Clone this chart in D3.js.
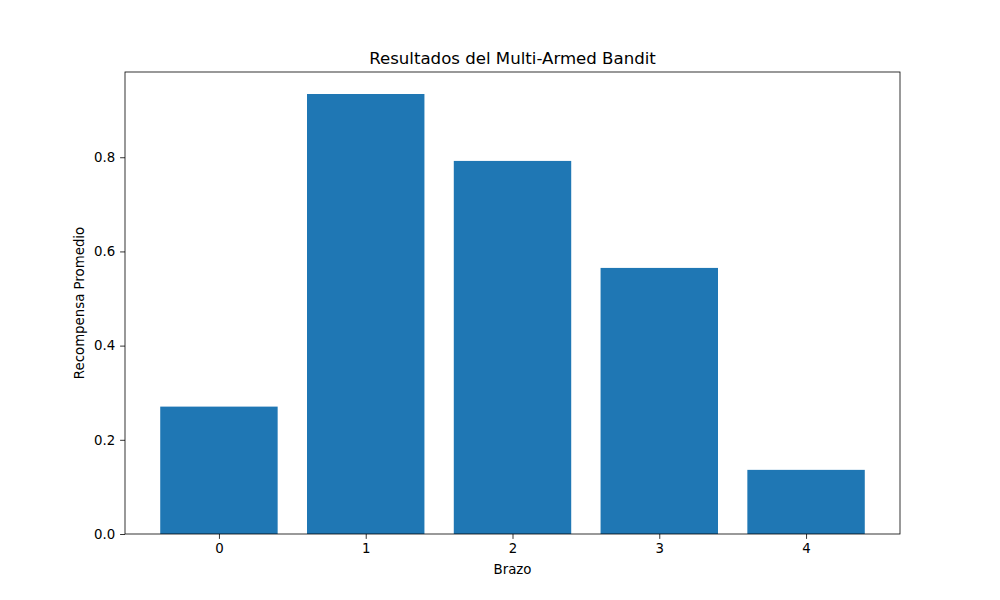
<!DOCTYPE html>
<html><head><meta charset="utf-8">
<script src="https://cdn.jsdelivr.net/npm/d3@7"></script>
<style>body{margin:0;background:#fff}svg{display:block;font-family:"DejaVu Sans",sans-serif}</style>
</head><body><svg id="c" width="1000" height="600"></svg>
<script>
const categories = ["0","1","2","3","4"];
const values = [0.2705, 0.9343, 0.7922, 0.5650, 0.1362];
const yTicks = [0.0, 0.2, 0.4, 0.6, 0.8];
const title = "Resultados del Multi-Armed Bandit";
const xLabel = "Brazo";
const yLabel = "Recompensa Promedio";

const svg = d3.select("#c");
const L = 125, R = 900, T = 72, B = 534;
const idx = categories.map((d,i)=>i);
const x = d3.scaleLinear().domain([-0.64, 4.64]).range([L, R]);
const ymax = d3.max(values) * 1.05;
const y = d3.scaleLinear().domain([0, ymax]).range([B, T]);

svg.append("g").selectAll("rect").data(values).join("rect")
  .attr("x", (d,i)=>x(i-0.4)).attr("width", (d,i)=>x(i+0.4)-x(i-0.4))
  .attr("y", d=>y(d)).attr("height", d=>B-y(d)).attr("fill", "#1f77b4");

const xa = svg.append("g").attr("transform", `translate(0,${B})`)
  .call(d3.axisBottom(x).tickValues(idx).tickFormat(i=>categories[i]).tickSize(4.9).tickPadding(4.9));
const ya = svg.append("g").attr("transform", `translate(${L},0)`)
  .call(d3.axisLeft(y).tickValues(yTicks).tickFormat(d3.format(".1f")).tickSize(4.9).tickPadding(4.9));
[xa, ya].forEach(a=>{
  a.select(".domain").remove();
  a.selectAll("line").attr("stroke","#000").attr("stroke-width",0.8);
  a.selectAll("text").attr("font-size","13.33px").attr("fill","#000").attr("font-family","DejaVu Sans");
});
svg.append("rect").attr("x",L).attr("y",T).attr("width",R-L).attr("height",B-T)
  .attr("fill","none").attr("stroke","#000").attr("stroke-width",0.8);

svg.append("text").attr("x",(L+R)/2).attr("y",T-8).attr("text-anchor","middle")
  .attr("font-size","16.6px").text(title);
svg.append("text").attr("x",(L+R)/2).attr("y",574).attr("text-anchor","middle")
  .attr("font-size","13.33px").text(xLabel);
svg.append("text").attr("transform",`translate(84,${(T+B)/2}) rotate(-90)`).attr("text-anchor","middle")
  .attr("font-size","13.33px").text(yLabel);
</script></body></html>
